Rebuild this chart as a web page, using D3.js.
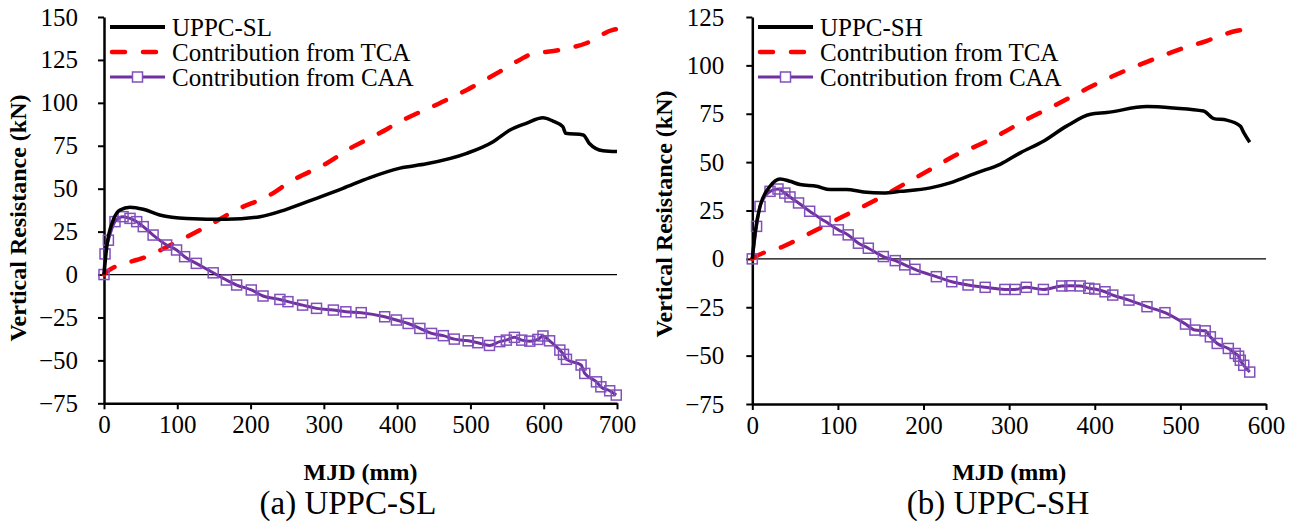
<!DOCTYPE html>
<html>
<head>
<meta charset="utf-8">
<script src="https://cdn.jsdelivr.net/npm/d3@7"></script>
<style>
  body { margin: 0; background: #fff; }
  svg text { font-family: "Liberation Serif", "DejaVu Serif", serif; }
</style>
</head>
<body>
<div id="chart"></div>
<script>
// Panel (a) UPPC-SL
const slTotal = [[0,0],[3.7,16],[12.7,31.8],[21.8,37.6],[35.5,39.2],[53.6,38],[76,34.7],[113,32.7],[167,32.2],[213,33.7],[249,38],[290,44.4],[326,50.2],[363,56.5],[404,62],[440,64.5],[495,70.6],[531,77.4],[554,84.2],[576,88.1],[599,91.3],[612,89.5],[626,86.1],[630,82.3],[654,81.3],[662,76.5],[681,72.1],[700,71.6]];
const slTCA = [[0,0],[3.7,1.6],[58,10.4],[104,20],[140,27.9],[185,38.6],[222,45.3],[258,55],[304,64.8],[340,74.5],[367,80.3],[413,91],[458,99.8],[495,107.5],[540,118.2],[567,125],[581,128],[622,130.8],[658,134.7],[694.5,142.5],[700,143]];
const slCAA = [[0,0],[1.4,12],[6,20],[15,30.8],[26,33.7],[35.5,32.7],[44.6,30.8],[53.6,27.9],[67,23],[85.5,17.2],[99,14.3],[110,10.4],[126,6.5],[149,1],[167,-3.2],[181,-6.1],[201,-9],[217,-12.5],[240,-14.5],[251,-15.8],[271,-17.8],[290,-19.7],[313,-20.7],[330,-21.7],[351,-22.2],[383,-24.6],[399,-26.5],[415,-28.5],[431,-31.4],[447,-34.3],[463,-35.6],[478,-37.6],[497,-38.6],[510,-39.7],[526,-41.3],[540,-39.1],[549,-38.2],[560,-36.6],[570,-38.2],[581,-38.8],[592,-37.8],[599,-35.8],[608,-38.6],[622,-44],[627,-46.5],[631,-49.4],[651,-52.7],[656,-57.6],[672,-62.5],[678,-65.4],[690,-67.7],[699,-70.2]];

// Panel (b) UPPC-SH
const shTotal = [[0,0],[3.2,13.3],[9,27.1],[20.7,37.5],[32.4,41.3],[44,40.1],[55.7,38.4],[75,37.5],[91,35.8],[110,35.8],[130,34.6],[153,34.1],[173,34.9],[208,36.7],[231,39.3],[262,44.5],[290,49],[313,54.8],[340,60.8],[367,68.6],[395,74.7],[414,75.6],[461,78.7],[492,78],[527,76.4],[539,72.5],[554,71.7],[570,68.6],[574,65.2],[581,60.3]];
const shTCA = [[0,0],[3,0.9],[36,6.4],[60,11.6],[83,16.8],[114,23.7],[145,30.6],[176.5,38.4],[208,46.2],[239,53.9],[270,60],[292,65],[320.7,72.1],[356,79.9],[391,88],[426,95.4],[461,101.8],[500,108.4],[531,112.7],[546.5,115.3],[566,117.9],[582,118.8]];
const shCAA = [[0,0],[5,16.8],[9,27.1],[20.7,34.9],[30,36.1],[38,34],[44,32],[54,28.9],[67,24.6],[85,19.4],[100.5,15],[112,12.4],[124,8.1],[135.5,5.5],[153,1.2],[167,-0.9],[178,-3.1],[190,-5.4],[215,-9.2],[233,-11.8],[252,-13.5],[272,-14.7],[295,-15.8],[307,-15.8],[320,-14.7],[340,-15.8],[361.5,-14],[371,-13.9],[383,-14],[393,-15.2],[400,-15.6],[412,-17],[421,-18.7],[440,-21.3],[461,-24.7],[482,-27.8],[506,-33.7],[517,-36.8],[529,-37.2],[535,-40.3],[543,-43.7],[556,-46.3],[564,-48.9],[568,-50.3],[570,-52.4],[574,-55],[581,-58.5]];

const slXTicks = [0,100,200,300,400,500,600,700];
const slYTicks = [-75,-50,-25,0,25,50,75,100,125,150];
const shXTicks = [0,100,200,300,400,500,600];
const shYTicks = [-75,-50,-25,0,25,50,75,100,125];

const W = 1298, H = 526;
const FONT = "'Liberation Serif', 'DejaVu Serif', serif";
const svg = d3.select("#chart").append("svg")
    .attr("width", W)
    .attr("height", H);

const BLACK = "#000", RED = "#ff0000", PURPLE = "#7030a0", MARK = "#8050bb";

function drawPanel(cfg) {
    const x = d3.scaleLinear().domain(cfg.xDomain).range(cfg.xRange);
    const y = d3.scaleLinear().domain(cfg.yDomain).range(cfg.yRange);
    const g = svg.append("g");

    // zero line
    g.append("line")
        .attr("x1", x(cfg.xDomain[0])).attr("x2", x(cfg.xDomain[1]))
        .attr("y1", y(0)).attr("y2", y(0))
        .attr("stroke", BLACK).attr("stroke-width", 1.2);

    // axes
    const xAxis = g.append("g")
        .attr("transform", `translate(0,${y(cfg.yDomain[0])})`)
        .call(d3.axisBottom(x).tickValues(cfg.xTicks).tickSize(6).tickSizeOuter(0).tickPadding(6));
    const yAxis = g.append("g")
        .attr("transform", `translate(${x(cfg.xDomain[0])},0)`)
        .call(d3.axisLeft(y).tickValues(cfg.yTicks).tickSize(6).tickSizeOuter(0).tickPadding(cfg.yPad));
    [xAxis, yAxis].forEach(a => {
        a.attr("font-family", FONT).attr("font-size", 25);
        a.select(".domain").attr("stroke", BLACK).attr("stroke-width", 2.5);
        a.selectAll(".tick line").attr("stroke", BLACK).attr("stroke-width", 2);
        a.selectAll(".tick text").attr("fill", BLACK);
    });

    const line = d3.line().x(d => x(d[0])).y(d => y(d[1])).curve(d3.curveMonotoneX);

    // TCA dashed
    g.append("path").datum(cfg.tca)
        .attr("d", line)
        .attr("fill", "none").attr("stroke", RED).attr("stroke-width", 4.5)
        .attr("stroke-dasharray", "13,18").attr("stroke-linecap", "round");

    // CAA line with square markers
    g.append("path").datum(cfg.caa)
        .attr("d", line)
        .attr("fill", "none").attr("stroke", PURPLE).attr("stroke-width", 3);
    g.selectAll(".mk").data(cfg.caa).enter().append("rect")
        .attr("x", d => x(d[0]) - 5).attr("y", d => y(d[1]) - 5)
        .attr("width", 10).attr("height", 10)
        .attr("fill", "none").attr("stroke", MARK).attr("stroke-width", 1.5);

    // total
    g.append("path").datum(cfg.total)
        .attr("d", line)
        .attr("fill", "none").attr("stroke", BLACK).attr("stroke-width", 3.5)
        .attr("stroke-linejoin", "round");

    // legend
    const lg = g.append("g").attr("transform", `translate(${cfg.legendX},0)`);
    const rows = [27, 52, 77];
    lg.append("line").attr("x1", 0).attr("x2", 55).attr("y1", rows[0]).attr("y2", rows[0])
        .attr("stroke", BLACK).attr("stroke-width", 4);
    lg.append("line").attr("x1", 2).attr("x2", 55).attr("y1", rows[1]).attr("y2", rows[1])
        .attr("stroke", RED).attr("stroke-width", 4.5)
        .attr("stroke-dasharray", "13,18").attr("stroke-linecap", "round");
    lg.append("line").attr("x1", 0).attr("x2", 55).attr("y1", rows[2]).attr("y2", rows[2])
        .attr("stroke", PURPLE).attr("stroke-width", 3);
    lg.append("rect").attr("x", 22.5).attr("y", rows[2] - 5).attr("width", 10).attr("height", 10)
        .attr("fill", "#fff").attr("stroke", MARK).attr("stroke-width", 1.5);
    cfg.legendLabels.forEach((t, i) => {
        lg.append("text").attr("x", 62).attr("y", rows[i] + 8.5)
            .text(t).style("font-size", "25px").attr("fill", BLACK);
    });

    // axis titles
    const cx = (cfg.xRange[0] + cfg.xRange[1]) / 2;
    g.append("text").attr("x", cx).attr("y", 480)
        .attr("text-anchor", "middle").style("font-size", "24px").style("font-weight", "bold")
        .text("MJD (mm)");
    g.append("text")
        .attr("transform", `translate(${cfg.yTitleX},${cfg.yTitleY}) rotate(-90)`)
        .attr("text-anchor", "middle").style("font-size", "24px").style("font-weight", "bold")
        .text("Vertical Resistance (kN)");
    g.append("text").attr("x", cfg.captionX).attr("y", 514)
        .attr("text-anchor", "middle").style("font-size", "33px")
        .text(cfg.caption);
}

drawPanel({
    xDomain: [0, 700], xRange: [104, 617],
    yDomain: [-75, 150], yRange: [403.3, 17],
    xTicks: slXTicks, yTicks: slYTicks, yPad: 20,
    total: slTotal, tca: slTCA, caa: slCAA,
    legendX: 110,
    legendLabels: ["UPPC-SL", "Contribution from TCA", "Contribution from CAA"],
    yTitleX: 26, yTitleY: 218,
    captionX: 348, caption: "(a) UPPC-SL"
});

drawPanel({
    xDomain: [0, 600], xRange: [752.3, 1266],
    yDomain: [-75, 125], yRange: [404, 17],
    xTicks: shXTicks, yTicks: shYTicks, yPad: 22,
    total: shTotal, tca: shTCA, caa: shCAA,
    legendX: 758,
    legendLabels: ["UPPC-SH", "Contribution from TCA", "Contribution from CAA"],
    yTitleX: 672, yTitleY: 214,
    captionX: 998, caption: "(b) UPPC-SH"
});
</script>
</body>
</html>
